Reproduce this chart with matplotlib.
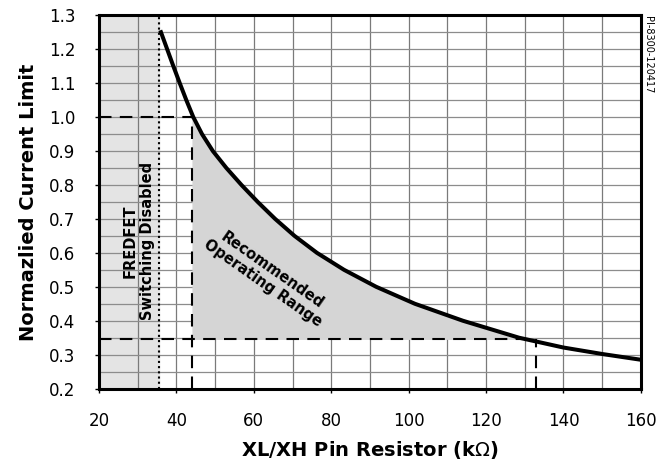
import matplotlib
matplotlib.use("Agg")
import matplotlib.pyplot as plt
import numpy as np

# curve
res_k = [36.0, 37.6, 39.2, 40.85, 42.55, 44.35, 46.6, 49.4, 52.9, 56.8, 61.0, 65.5, 70.5, 76.3,
         83.3, 91.6, 101.6, 114, 128.5, 140, 150, 160]
i_norm = [1.25, 1.2, 1.15, 1.1, 1.05, 1.0, 0.95, 0.9, 0.85, 0.8, 0.75, 0.7, 0.65, 0.6,
          0.55, 0.5, 0.45, 0.4, 0.35, 0.321, 0.302, 0.285]

disabled_edge = 35.5   # FREDFET switching disabled below this
r_min, r_max = 44, 133
i_max, i_min = 1.0, 0.345

x_ticks = [20, 40, 60, 80, 100, 120, 140, 160]
y_ticks = [0.2, 0.3, 0.4, 0.5, 0.6, 0.7, 0.8, 0.9, 1.0, 1.1, 1.2, 1.3]

fig = plt.figure(figsize=(6.58, 4.61), dpi=100)
ax = fig.add_axes([0.1505, 0.157, 0.8235, 0.81])

ax.set_xlim(20, 160)
ax.set_ylim(0.2, 1.3)

# grid
for gx in np.arange(20, 161, 10):
  ax.axvline(gx, color='#7a7a7a', lw=0.9, zorder=1)
for gy in np.arange(0.2, 1.301, 0.05):
  ax.axhline(gy, color='#8c8c8c', lw=0.9, zorder=1)

# disabled zone
ax.axvspan(20, disabled_edge, color='#e4e4e4', zorder=0.5)
ax.axvline(disabled_edge, color='black', lw=1.5, ls=(0, (1, 1.5)), zorder=3)

# recommended range fill (curve above i_min, right of r_min)
x = np.array(res_k)
y = np.array(i_norm)
keep = (x > r_min) & (y >= i_min)
x_end = np.interp(i_min, y[::-1], x[::-1])
fx = np.concatenate([[r_min], x[keep], [x_end]])
fy = np.concatenate([[np.interp(r_min, x, y)], y[keep], [i_min]])
ax.fill_between(fx, i_min, fy, color='#d5d5d5', zorder=1.5, lw=0)

# limit lines
dash = (0, (6, 4))
ax.plot([20, r_min], [i_max, i_max], color='black', lw=1.5, ls=dash, zorder=3)
ax.plot([r_min, r_min], [0.2, i_max], color='black', lw=1.5, ls=dash, zorder=3)
ax.plot([20, r_max], [i_min, i_min], color='black', lw=1.5, ls=dash, zorder=3)
ax.plot([r_max, r_max], [0.2, i_min], color='black', lw=1.5, ls=dash, zorder=3)

ax.plot(res_k, i_norm, color='black', lw=2.9, zorder=4, solid_joinstyle='round')

ax.text(30.3, 0.635, 'FREDFET\nSwitching Disabled', rotation=90, ha='center', va='center',
        fontsize=10.5, fontweight='bold', linespacing=1.25, zorder=5)
ax.text(63.5, 0.53, 'Recommended\nOperating Range', rotation=-35, ha='center', va='center',
        fontsize=10.5, fontweight='bold', linespacing=1.0, zorder=5, rotation_mode='anchor')

ax.set_xticks(x_ticks)
ax.set_yticks(y_ticks)
ax.set_yticklabels(['%.1f' % v for v in y_ticks])
ax.tick_params(labelsize=12, length=3, width=1, direction='out')
ax.tick_params(axis='x', pad=14)
ax.tick_params(axis='y', pad=14)
for s in ax.spines.values():
  s.set_linewidth(2.2)
  s.set_zorder(6)

ax.set_xlabel('XL/XH Pin Resistor (k$\\Omega$)', fontsize=14, fontweight='bold', labelpad=6)
ax.set_ylabel('Normazlied Current Limit', fontsize=14, fontweight='bold', labelpad=8)

fig.text(0.985, 0.965, 'PI-8300-120417', rotation=-90, ha='center', va='top', fontsize=7)

fig.savefig('out.png', dpi=100)
